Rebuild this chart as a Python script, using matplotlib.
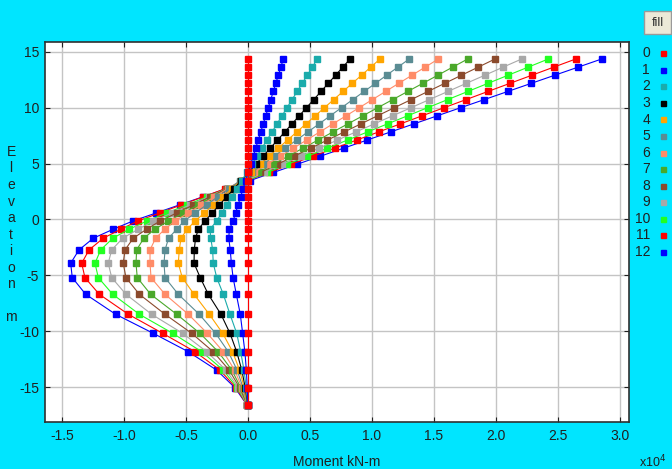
import numpy as np
import matplotlib
matplotlib.use('Agg')
import matplotlib.pyplot as plt
from matplotlib.lines import Line2D
from matplotlib.patches import Rectangle
from matplotlib.ticker import FormatStrFormatter

# node elevations along the wall (m)
elevation = [14.35, 13.625, 12.9, 12.175, 11.45, 10.725, 10.0, 9.275, 8.55, 7.825,
             7.1, 6.375, 5.65, 4.925, 4.2, 3.475, 2.75, 2.025, 1.3, 0.575,
             -0.15, -0.875, -1.68, -2.73, -3.92, -5.21, -6.70, -8.49, -10.19, -11.84,
             -13.48, -15.06, -16.61]

# bending moment per construction stage, x10^4 kN-m
stage_0 = [0.0, 0.0, 0.0, 0.0, 0.0, 0.0, 0.0, 0.0, 0.0, 0.0,
           0.0, 0.0, 0.0, 0.0, 0.0, 0.0, 0.0, 0.0, 0.0, 0.0,
           0.0, 0.0, 0.0, 0.0, 0.0, 0.0, 0.0, 0.0, 0.0, 0.0,
           0.0, 0.0, 0.0]
stage_1 = [0.285, 0.265, 0.245, 0.224, 0.204, 0.184, 0.164, 0.143, 0.123, 0.103,
           0.083, 0.062, 0.042, 0.022, 0.002, -0.019, -0.039, -0.059, -0.080, -0.100,
           -0.120, -0.150, -0.155, -0.143, -0.134, -0.120, -0.094, -0.062, -0.043, -0.025,
           -0.013, -0.006, 0.0]
stage_2 = [0.559, 0.518, 0.478, 0.437, 0.397, 0.356, 0.315, 0.275, 0.234, 0.194,
           0.153, 0.112, 0.072, 0.031, -0.009, -0.050, -0.091, -0.131, -0.172, -0.212,
           -0.253, -0.306, -0.300, -0.285, -0.280, -0.252, -0.199, -0.145, -0.091, -0.059,
           -0.032, -0.014, -0.001]
stage_3 = [0.823, 0.765, 0.706, 0.648, 0.589, 0.531, 0.472, 0.414, 0.355, 0.297,
           0.238, 0.180, 0.121, 0.063, 0.004, -0.055, -0.113, -0.172, -0.230, -0.289,
           -0.347, -0.400, -0.423, -0.433, -0.435, -0.385, -0.320, -0.218, -0.145, -0.091,
           -0.050, -0.022, -0.002]
stage_4 = [1.065, 0.990, 0.916, 0.841, 0.767, 0.692, 0.617, 0.543, 0.468, 0.394,
           0.319, 0.244, 0.170, 0.095, 0.021, -0.054, -0.129, -0.203, -0.278, -0.352,
           -0.427, -0.490, -0.540, -0.554, -0.562, -0.530, -0.435, -0.312, -0.204, -0.124,
           -0.068, -0.030, -0.002]
stage_5 = [1.300, 1.209, 1.118, 1.028, 0.937, 0.846, 0.755, 0.664, 0.574, 0.483,
           0.392, 0.301, 0.210, 0.120, 0.029, -0.062, -0.153, -0.244, -0.334, -0.425,
           -0.516, -0.575, -0.640, -0.669, -0.677, -0.669, -0.562, -0.393, -0.261, -0.159,
           -0.088, -0.039, -0.003]
stage_6 = [1.535, 1.429, 1.323, 1.216, 1.110, 1.004, 0.898, 0.792, 0.685, 0.579,
           0.473, 0.367, 0.261, 0.154, 0.048, -0.058, -0.164, -0.270, -0.377, -0.483,
           -0.589, -0.670, -0.745, -0.790, -0.790, -0.782, -0.669, -0.481, -0.328, -0.199,
           -0.108, -0.048, -0.004]
stage_7 = [1.772, 1.651, 1.531, 1.410, 1.289, 1.168, 1.047, 0.927, 0.806, 0.685,
           0.565, 0.444, 0.323, 0.202, 0.082, -0.039, -0.160, -0.281, -0.402, -0.522,
           -0.643, -0.750, -0.840, -0.898, -0.903, -0.893, -0.785, -0.575, -0.387, -0.240,
           -0.130, -0.058, -0.004]
stage_8 = [1.992, 1.857, 1.722, 1.587, 1.452, 1.317, 1.181, 1.046, 0.911, 0.776,
           0.641, 0.506, 0.371, 0.236, 0.101, -0.034, -0.170, -0.305, -0.440, -0.575,
           -0.710, -0.817, -0.925, -0.992, -1.006, -0.984, -0.876, -0.669, -0.454, -0.280,
           -0.152, -0.067, -0.005]
stage_9 = [2.207, 2.058, 1.910, 1.761, 1.613, 1.464, 1.316, 1.167, 1.019, 0.870,
           0.722, 0.573, 0.424, 0.276, 0.127, -0.021, -0.170, -0.318, -0.467, -0.615,
           -0.764, -0.885, -1.010, -1.099, -1.127, -1.099, -0.984, -0.777, -0.527, -0.333,
           -0.177, -0.077, -0.006]
stage_10 = [2.422, 2.260, 2.098, 1.936, 1.774, 1.612, 1.450, 1.288, 1.126, 0.964,
            0.803, 0.641, 0.479, 0.317, 0.155, -0.007, -0.169, -0.331, -0.493, -0.655,
            -0.817, -0.957, -1.090, -1.188, -1.234, -1.207, -1.091, -0.876, -0.607, -0.373,
            -0.200, -0.087, -0.006]
stage_11 = [2.643, 2.466, 2.290, 2.113, 1.936, 1.760, 1.583, 1.406, 1.230, 1.053,
            0.877, 0.700, 0.523, 0.347, 0.170, -0.007, -0.183, -0.360, -0.537, -0.713,
            -0.890, -1.024, -1.167, -1.282, -1.341, -1.315, -1.199, -0.965, -0.688, -0.427,
            -0.226, -0.097, -0.007]
stage_12 = [2.852, 2.663, 2.474, 2.285, 2.096, 1.907, 1.717, 1.528, 1.339, 1.150,
            0.961, 0.772, 0.583, 0.394, 0.205, 0.016, -0.174, -0.363, -0.552, -0.741,
            -0.930, -1.086, -1.247, -1.363, -1.430, -1.417, -1.309, -1.067, -0.764, -0.481,
            -0.253, -0.105, -0.008]

stages = [stage_0, stage_1, stage_2, stage_3, stage_4, stage_5, stage_6,
          stage_7, stage_8, stage_9, stage_10, stage_11, stage_12]
stage_labels = ['0', '1', '2', '3', '4', '5', '6', '7', '8', '9', '10', '11', '12']
colors = ['#ff0000', '#0000ff', '#1aabab', '#000000', '#ffa500', '#5a8c93',
          '#ff8c68', '#4aa82a', '#8b4a2c', '#a8a8a8', '#22ff22', '#ff0000', '#0000ff']

x_ticks = [-1.5, -1.0, -0.5, 0.0, 0.5, 1.0, 1.5, 2.0, 2.5, 3.0]
y_ticks = [-15, -10, -5, 0, 5, 10, 15]

bg = '#00e5ff'
plt.rcParams['font.family'] = ['Liberation Sans', 'DejaVu Sans']
plt.rcParams['axes.unicode_minus'] = False

W, H = 672, 469
fig = plt.figure(figsize=(W / 100, H / 100), dpi=100, facecolor=bg)
ax = fig.add_axes([45 / W, 1 - 421.7 / H, 584 / W, 380 / H])
ax.set_facecolor('white')

# last stage first so stage 0 ends up on top
for i in reversed(range(len(stages))):
    ax.plot(np.array(stages[i]), elevation, '-', color=colors[i], lw=0.8,
            marker='s', ms=4.0, mec=colors[i], mfc=colors[i])

ax.set_xlim(-1.637, 3.073)
ax.set_ylim(-18.1, 15.9)
ax.set_xticks(x_ticks)
ax.set_yticks(y_ticks)
ax.xaxis.set_major_formatter(FormatStrFormatter('%.1f'))
ax.grid(True, color='#c4c4c4', lw=1.0)
ax.set_axisbelow(True)
ax.tick_params(direction='in', length=3.6, width=0.8, top=True, right=True,
               labelsize=10, colors='#202020')
ax.tick_params(axis='x', pad=5.3)
ax.tick_params(axis='y', pad=4.3)
for s in ax.spines.values():
    s.set_color('#303030')
    s.set_linewidth(1.2)

ax.set_xlabel('Moment kN-m', fontsize=10, color='#202020')
ax.xaxis.set_label_coords(0.5, -(461.7 - 421.7) / 380)
ax.xaxis.label.set_va('center')
fig.text(639 / W, 1 - 461.7 / H, r'x10$^4$', fontsize=9, ha='left', va='center',
         color='#202020')

# vertical stacked axis title
ylabel_chars = ['E', 'l', 'e', 'v', 'a', 't', 'i', 'o', 'n', '', 'm']
for j, ch in enumerate(ylabel_chars):
    fig.text(11 / W, 1 - (152 + 16.5 * j) / H, ch, fontsize=10, ha='center',
             va='center', color='#202020')

# stage key down the right margin
for i, lab in enumerate(stage_labels):
    yk = 1 - (53.3 + 16.55 * i) / H
    fig.text(650 / W, yk, lab, fontsize=10, ha='right', va='center', color='#202020')
    fig.add_artist(Line2D([662.7 / W], [yk], transform=fig.transFigure, marker='s',
                          ms=3.6, color=colors[i], ls='none'))

# "fill" button
fig.add_artist(Rectangle((644 / W, 1 - 34 / H), 27 / W, 23 / H, transform=fig.transFigure,
                         facecolor='#ece9d8', edgecolor='#9a9a9a', lw=1.0))
fig.text(657.5 / W, 1 - 22.5 / H, 'fill', fontsize=9, ha='center', va='center',
         color='#303030')

fig.savefig('out.png', dpi=100, facecolor=bg)
